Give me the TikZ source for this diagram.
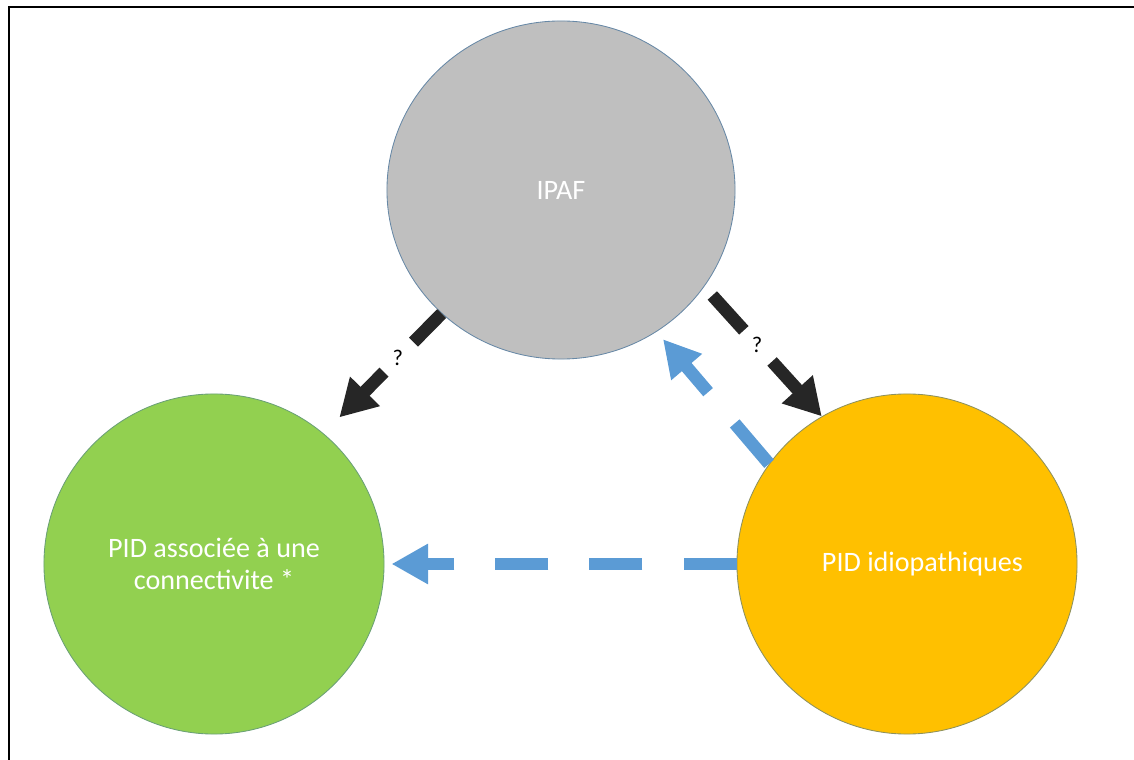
\documentclass[tikz,border=0pt]{standalone}
\usepackage{fontspec}
\setmainfont{Carlito}
\usetikzlibrary{arrows.meta,shapes.geometric}
\definecolor{ipafgray}{HTML}{BFBFBF}
\definecolor{pidgreen}{HTML}{92D050}
\definecolor{pidyellow}{HTML}{FFC000}
\definecolor{rimblue}{HTML}{41719C}
\definecolor{arrowblue}{HTML}{5B9BD5}
\definecolor{arrowblack}{HTML}{262626}

\begin{document}
\begin{tikzpicture}[x=0.025cm, y=-0.025cm,
  disease/.style={circle, line width=0.6pt, minimum size=8.5cm, text=white, align=center, font=\fontsize{20}{23}\selectfont},
  linkblack/.style={draw=arrowblack, line width=9pt, -{Triangle[length=26pt,width=28pt]}},
  linkblue/.style={draw=arrowblue, line width=9pt, -{Triangle[length=26pt,width=27pt]}, dash pattern=on 37.7pt off 29.2pt},
  qmark/.style={font=\fontsize{16}{18}\selectfont, text=black}]
\useasboundingbox (0,0) rectangle (1134,760);
\draw[line width=2pt] (9,760) |- (1134,7); % frame
\node[disease, ellipse, fill=ipafgray, draw=rimblue!70!ipafgray, minimum width=8.7cm, minimum height=8.45cm] (ipaf) at (561,190) {IPAF}; % top circle
\node[disease, fill=pidgreen, draw=rimblue!50!pidgreen] (green) at (214,564) {PID associée à une\\connectivite *}; % left circle
\node[disease, fill=pidyellow, draw=rimblue!60!pidyellow] (yellow) at (907,564) {\hspace*{22pt}PID idiopathiques}; % right circle
\draw[linkblack, dash pattern=on 28.5pt off 29.9pt on 400pt off 10pt, shorten >=16pt] (ipaf.226) -- node[qmark, pos=0.37] {?} (green.50); % black arrow left
\draw[linkblack, dash pattern=on 33.4pt off 29.9pt on 400pt off 10pt, shorten <=8.5pt] (ipaf.-34) -- node[qmark, pos=0.45] {?} (yellow.120); % black arrow right
\draw[linkblue, shorten >=7pt] (yellow.144) -- (ipaf.-56); % blue arrow up
\draw[linkblue, shorten >=5pt] (yellow.180) -- (green.0); % blue arrow left
\end{tikzpicture}
\end{document}
